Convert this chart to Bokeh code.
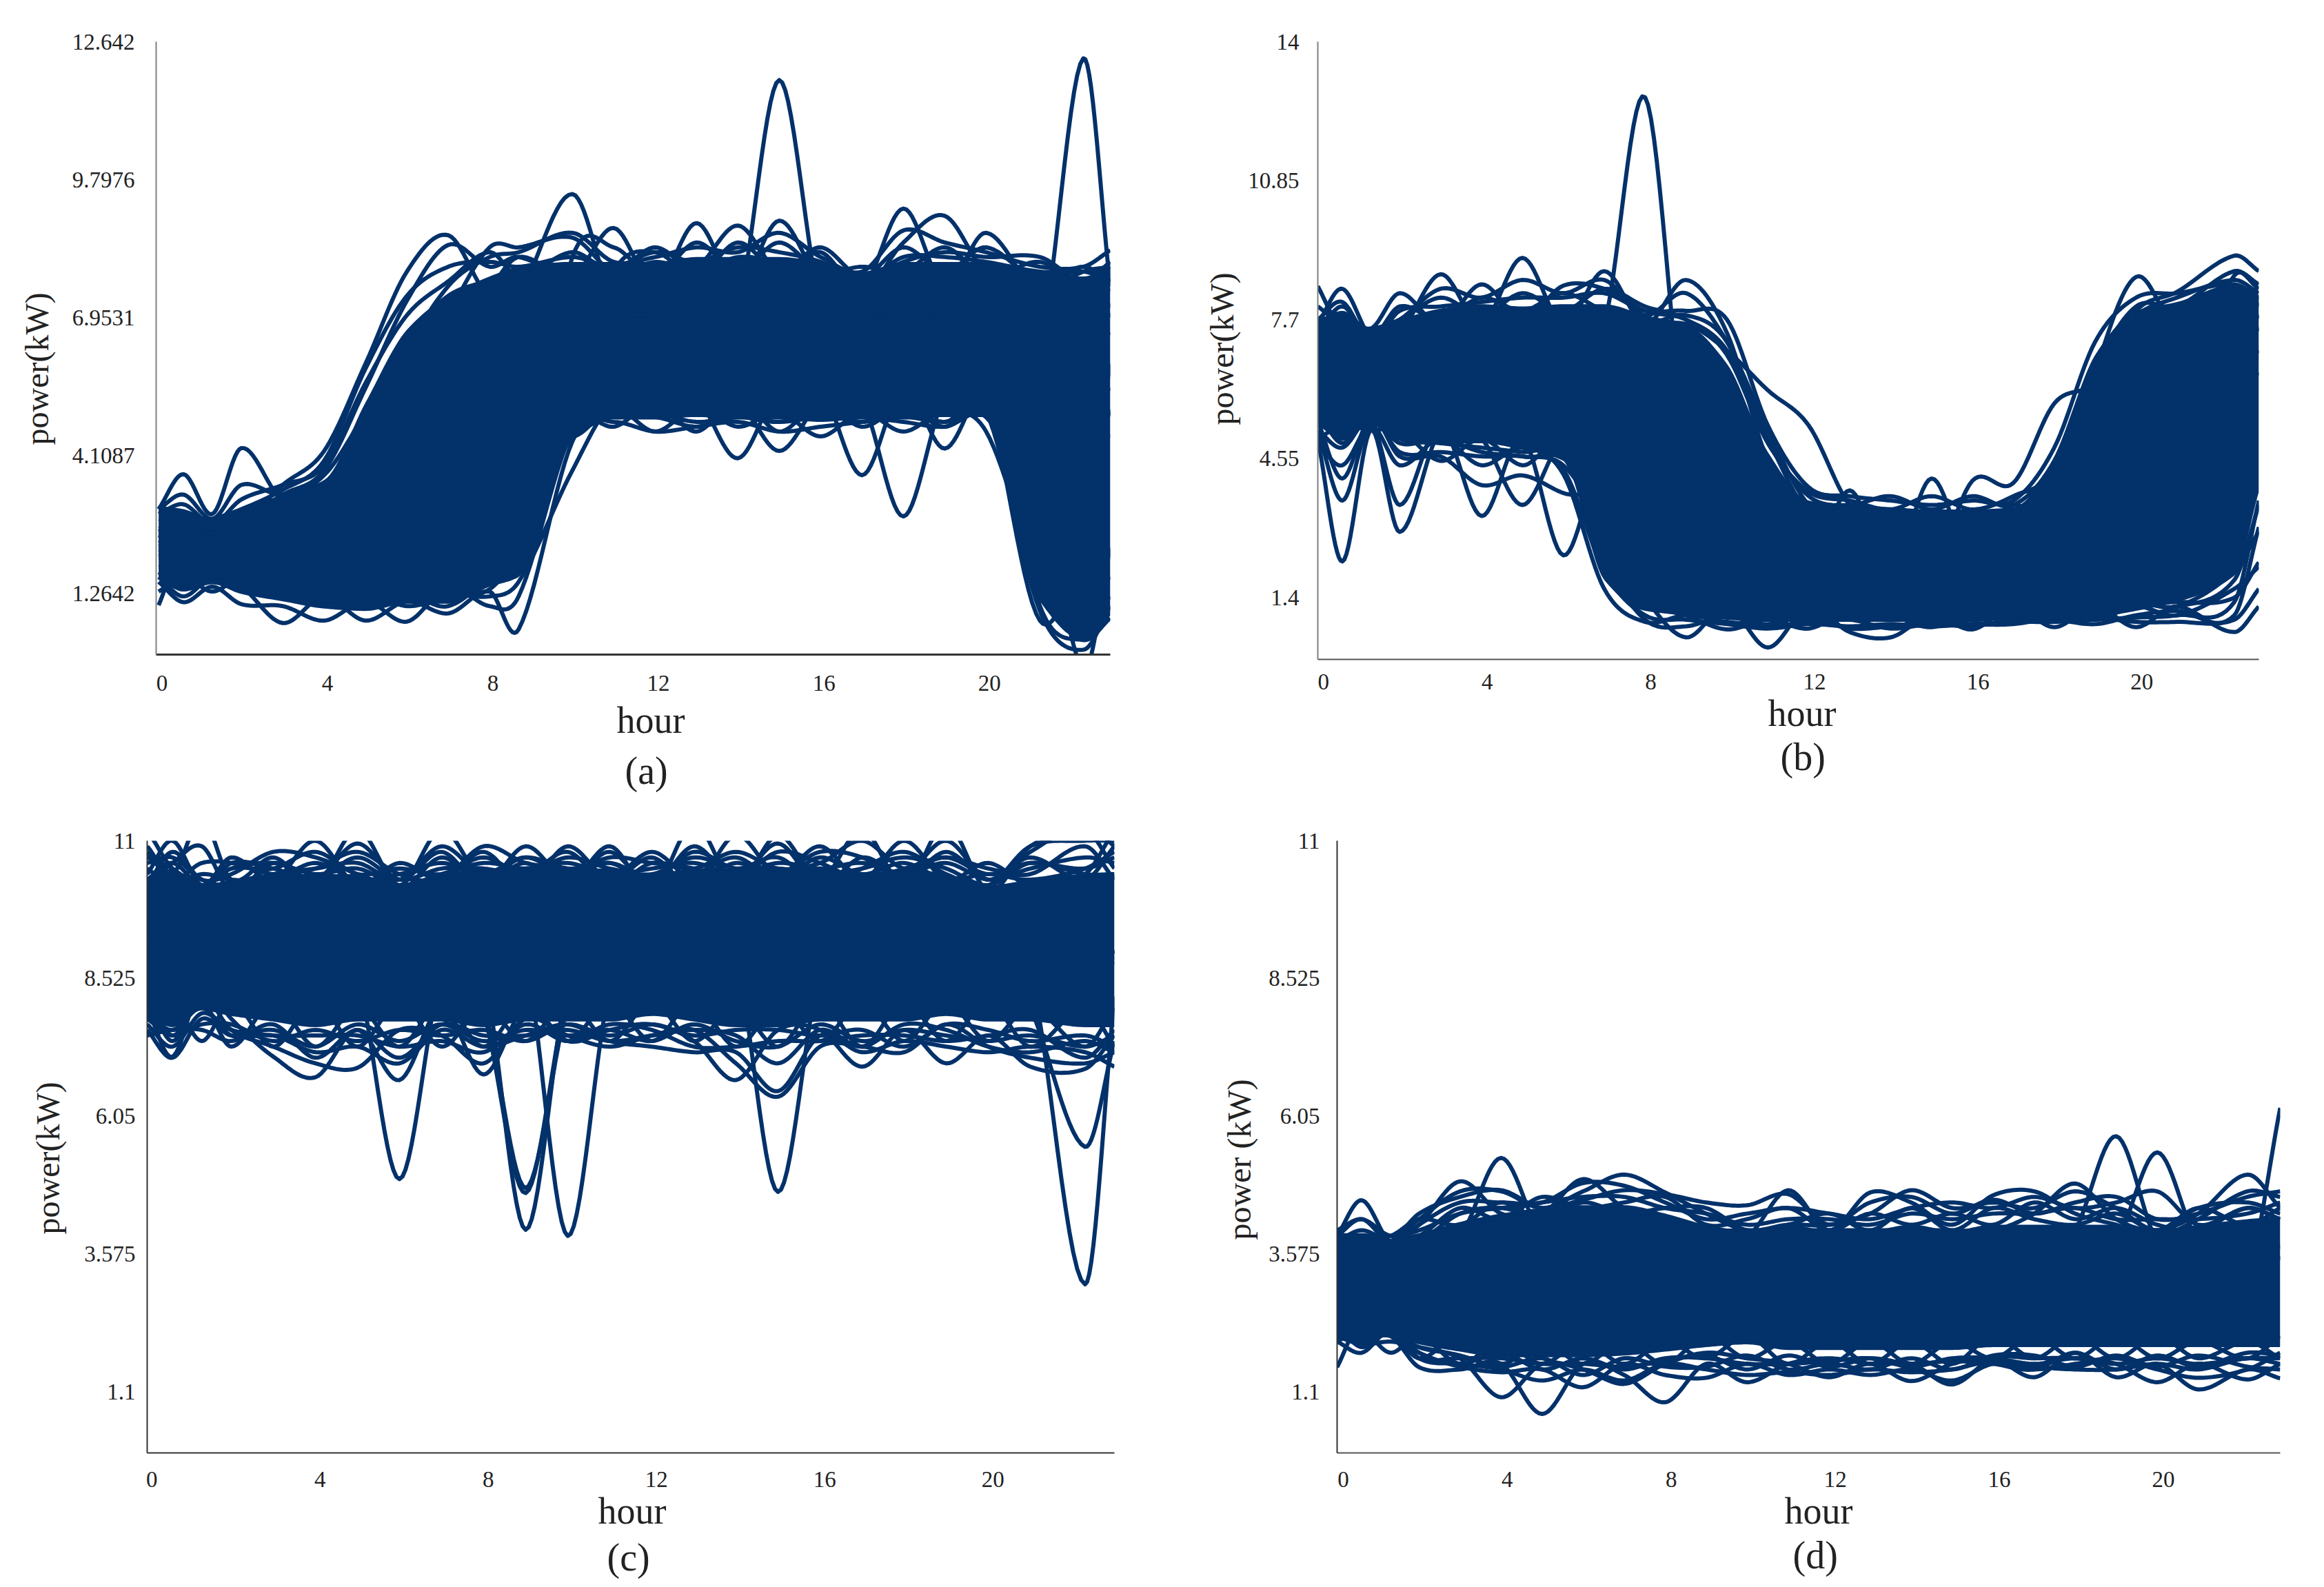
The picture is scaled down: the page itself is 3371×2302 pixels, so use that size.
from bokeh.embed import file_html
from bokeh.resources import INLINE
from bokeh.plotting import figure
from bokeh.layouts import column, row
from bokeh.models import Range1d, FixedTicker, CustomJSTickFormatter, Title
import numpy as np

LINE = "#03316A"
FONT = "Liberation Serif"

tick_hours = [0, 4, 8, 12, 16, 20]

# ---------- panel (a) ----------
a_ticks = [1.2642, 4.1087, 6.9531, 9.7976, 12.642]
a_hours = [0,.6,1.3,2,3,4,5,6,7,8,8.7,10,11,12,13,14,15,16,17,18,19,20,21.3,22.35,23]
a_top = [3.07,3.0,2.8,3.0,3.3, 3.6,5.2,6.7,7.4,7.8, 8.0,8.1,8.1,8.1,8.2, 8.2,8.2,8.1,7.9,8.1, 8.1,8.1,7.9,7.8,8.0]
a_bot = [1.55,1.3,1.45,1.25,1.1, .95,.9,1.05,1.05,1.4, 1.6,4.4,4.85,4.85,4.9, 4.85,4.85,4.8,4.85,4.85, 4.9,4.9,1.1,.3,.8]
a_lines = [
 [2.3,2.5,2.4,2.4,2.5, 2.6,3.0,4.8,6.6,7.0, 7.0,7.0,7.0,7.0,7.0, 7.2,11.85,7.3,7.0,7.0, 7.0,7.0,7.0,6.8,6.6],
 [2.6,2.4,2.5,2.4,2.4, 2.5,2.8,3.6,5.5,6.8, 7.0,7.0,7.0,7.0,7.0, 7.0,7.0,7.0,7.0,7.0, 7.0,7.2,6.5,12.3,7.6],
 [2.2,2.3,2.2,2.3,2.3, 2.4,2.6,3.4,5.0,7.0, 7.4,9.5,7.3,7.0,7.0, 7.0,7.0,7.0,7.0,7.0, 7.0,7.0,6.8,7.0,7.0],
 [2.4,2.6,2.5,2.7,3.5, 4.2,6.0,7.9,8.65,7.4, 7.9,7.6,7.4,7.2,7.2, 7.2,7.2,7.2,7.2,7.2, 7.2,7.2,7.0,7.2,7.2],
 [2.5,2.4,2.6,2.8,3.3, 3.8,5.5,7.3,8.45,8.0, 8.2,7.7,7.5,7.2,7.2, 7.2,7.2,7.2,7.2,7.2, 7.2,7.2,7.0,7.2,7.2],
 [2.5,2.6,2.5,2.6,2.6, 2.7,3.0,4.0,6.0,7.5, 8.2,7.8,8.8,7.6,8.9, 7.6,8.95,7.7,7.5,9.2, 7.6,8.7,7.4,7.6,7.5],
 [2.4,2.5,2.4,2.5,2.7, 2.9,3.4,5.2,7.0,8.4, 8.4,8.6,7.9,8.1,8.0, 8.85,7.9,8.3,7.5,8.5, 9.05,7.9,7.8,7.9,7.7],
 [2.6,2.7,2.6,2.8,2.9, 3.0,3.8,6.2,7.6,8.2, 8.3,8.7,8.1,8.2,8.4, 8.3,8.7,8.2,7.9,8.75, 8.5,8.3,8.0,8.0,8.34],
 [2.0,2.0,1.9,2.0,2.0, 2.1,2.1,2.2,2.5,3.5, 4.5,5.6,5.4,5.4,5.3, 4.05,5.5,5.5,3.7,5.5, 4.25,5.6,5.0,5.5,5.0],
 [1.8,1.9,1.8,1.8,1.9, 2.0,2.0,2.1,2.3,2.8, 3.8,5.2,5.2,5.1,5.0, 5.2,4.2,5.2,5.2,2.85, 5.3,5.3,4.0,4.5,5.0],
 [1.02,2.2,1.7,1.8,1.7, 1.6,1.7,1.7,1.8,2.2, 3.0,4.9,4.9,4.9,4.7, 4.9,4.8,4.9,4.9,4.8, 4.7,4.9,3.0,4.0,5.0],
 [3.0,3.72,2.9,4.26,3.2, 3.5,3.4,3.7,5.0,7.0, 7.2,7.0,7.0,7.0,7.0, 7.0,7.0,7.0,7.0,7.0, 7.0,7.0,6.5,7.0,7.0],
 [3.0,3.3,2.8,3.5,3.3, 3.7,5.0,6.5,7.4,7.7, 7.8,7.8,7.8,7.8,7.8, 7.8,7.8,7.8,7.8,7.8, 7.8,7.8,7.5,7.9,8.0],
 [1.6,1.2,1.6,1.4,.65, 1.2,.7,1.1,.85,1.3, .52,4.4,5.0,5.0,5.0, 5.0,5.0,5.0,5.0,5.0, 5.0,5.0,4.0,5.0,5.5],
 [1.5,1.08,1.4,1.04,1.0, .7,1.1,.68,1.4,1.0, 1.2,4.6,4.8,4.6,4.7, 4.8,4.6,4.7,4.8,4.9, 4.8,4.9,3.0,4.5,4.5],
 [2.2,2.1,2.2,2.1,2.1, 2.2,2.2,2.3,3.0,5.0, 6.0,6.5,6.5,6.5,6.5, 6.5,6.5,6.5,6.5,6.5, 6.5,5.4,.7,2.6,6.0],
 [2.1,2.2,2.1,2.1,2.2, 2.2,2.3,2.5,3.5,5.5, 6.2,6.6,6.6,6.6,6.6, 6.6,6.6,6.6,6.6,6.6, 6.6,6.0,3.5,-.3,2.2],
 [2.3,2.2,2.3,2.2,2.3, 2.3,2.4,2.6,4.0,6.0, 6.4,6.7,6.7,6.7,6.7, 6.7,6.7,6.7,6.7,6.7, 6.7,5.6,1.0,.3,.75],
 [1.7,1.4,1.7,1.35,1.3, 1.1,1.3,1.0,1.2,1.35, 2.2,5.2,7.9,8.3,7.8, 8.5,7.9,8.4,7.8,8.4, 7.9,8.4,7.7,8.0,7.7],
 [1.6,1.5,1.5,1.5,1.15, 1.3,1.0,1.25,1.0,1.7, 2.8,8.2,8.4,7.8,8.5, 7.9,8.5,7.9,8.0,7.9, 8.4,7.8,8.1,7.6,8.1],
 [2.9,3.1,2.7,3.2,3.5, 3.9,5.6,7.0,7.7,8.3, 7.8,8.3,7.9,8.4,7.9, 8.2,8.1,8.0,7.7,8.2, 8.2,8.1,7.9,7.9,8.0],
 [2.0,2.1,2.0,2.1,2.1, 2.2,2.3,2.4,2.8,3.6, 4.0,5.0,4.7,5.2,4.6, 5.3,4.6,5.2,4.7,5.1, 4.7,5.1,2.2,1.2,1.6],
 [2.1,2.0,2.1,2.0,2.0, 2.1,2.2,2.6,3.4,4.4, 5.0,4.5,5.1,4.6,5.1, 4.7,5.0,4.5,5.0,4.6, 5.0,4.6,1.6,.6,1.2],
 [2.8,2.7,2.8,3.0,3.4, 4.0,5.9,7.4,8.0,8.1, 8.0,8.2,8.0,8.3,8.1, 8.4,8.3,8.1,7.7,8.1, 8.3,8.2,8.2,7.7,8.1],
 [1.3,1.6,1.3,1.6,1.5, 1.35,1.15,1.5,1.3,1.2, 1.5,3.8,5.2,5.0,4.8, 4.9,4.8,5.0,4.8,5.0, 4.8,5.0,.9,.1,1.0],
]

# ---------- panel (b) ----------
b_ticks = [1.4, 4.55, 7.7, 10.85, 14]
b_hours = [0,.6,1.3,2,3,4,5,6,7,8,9,10,11,12,13,14,15,16,17,18,19,20,21,22.4,23]
b_top = [7.7,7.9,7.5,7.7,7.95, 8.05,8.0,8.05,8.05,7.8, 7.6,6.7,4.7,3.6,3.5, 3.45,3.4,3.4,3.45,4.5, 6.9,7.9,8.1,8.5,8.15]
b_bot = [5.3,5.0,5.3,5.0,4.9, 4.9,4.75,4.5,1.8,1.1, 1.0,.9,.85,.85,.85, .85,.85,.85,.9,.9, .95,1.1,1.3,1.9,3.8]
b_lines = [
 [6.5,6.6,6.5,6.6,6.6, 6.6,6.6,6.7,7.6,12.74, 5.0,3.5,3.0,2.6,2.4, 2.3,2.3,2.3,2.3,2.4, 2.5,3.0,4.5,6.0,6.5],
 [8.46,7.4,7.0,7.2,7.2, 7.2,7.2,7.2,7.2,7.0, 6.5,5.0,3.0,2.5,2.4, 2.4,2.4,2.4,2.4,2.4, 2.6,3.5,5.0,6.5,7.0],
 [7.6,8.4,7.3,7.4,8.73, 7.6,9.1,7.6,8.8,7.6, 8.6,7.4,4.5,3.2,2.9, 2.8,2.8,2.8,2.8,2.9, 3.0,4.0,5.5,7.0,7.5],
 [7.2,7.8,7.5,8.3,7.6, 8.5,7.7,8.47,8.4,7.9, 7.7,7.0,5.0,3.3,3.0, 3.0,3.0,3.0,3.0,3.2, 3.5,4.5,6.0,7.5,7.8],
 [7.0,7.6,7.4,7.7,8.4, 8.2,8.6,8.3,8.6,7.8, 8.3,7.2,5.2,3.5,3.2, 3.1,3.1,3.1,3.2,3.5, 4.0,5.0,6.5,7.9,8.1],
 [6.8,7.0,7.0,7.0,7.2, 7.2,7.2,7.2,7.2,7.5, 7.6,7.0,6.1,5.3,3.5, 3.0,2.8,2.8,3.0,3.5, 4.5,6.0,7.0,7.5,7.5],
 [5.5,6.0,6.0,6.0,6.0, 6.0,6.0,6.0,5.0,3.0, 2.5,2.2,2.0,2.0,3.83, 2.0,4.1,2.2,3.5,3.0, 6.5,8.67,7.5,8.0,8.2],
 [5.5,5.8,6.0,6.0,6.0, 6.0,6.0,6.0,5.0,3.0, 2.5,2.2,2.0,2.0,2.0, 2.0,2.0,4.05,4.0,5.8, 6.3,7.9,8.33,9.15,8.8],
 [5.0,2.22,5.2,2.89,5.2, 5.0,3.5,5.0,4.8,3.0, 2.0,1.8,1.5,1.5,1.6, 1.6,1.7,1.8,1.8,2.0, 2.3,3.5,6.0,8.7,8.4],
 [5.2,3.6,5.3,3.5,5.3, 3.25,5.0,2.36,4.5,2.5, 1.8,1.5,1.3,1.4,1.5, 1.5,1.5,1.6,1.7,1.8, 2.0,3.0,5.5,8.2,8.0],
 [5.4,4.1,5.5,4.6,4.6, 3.95,4.17,3.77,3.5,1.5, 1.4,1.3,1.2,1.3,1.3, 1.3,1.3,1.4,1.4,1.5, 1.6,2.5,4.5,7.0,7.8],
 [5.6,4.9,5.5,4.9,5.0, 4.7,4.6,4.4,3.0,1.4, .5,1.2,.27,1.2,.62, .5,1.0,.68,1.2,.73, 1.2,.73,1.2,.62,1.2],
 [5.5,5.0,5.5,5.0,4.9, 4.8,4.7,4.6,2.5,1.3, 1.0,.68,.9,.7,1.1, 1.0,.73,1.1,1.0,1.1, .9,1.2,1.0,1.6,2.1],
 [6.0,6.0,6.0,6.0,6.0, 6.0,6.0,6.0,4.0,1.6, 1.3,1.2,1.1,1.1,1.1, 1.2,1.2,1.2,1.2,1.1, 1.2,1.3,1.2,2.0,2.9],
 [6.0,6.0,6.0,6.0,6.0, 6.0,6.0,6.0,4.5,1.8, 1.5,1.3,1.2,1.2,1.2, 1.2,1.2,1.2,1.2,1.2, 1.3,1.3,1.3,1.4,2.2],
 [6.2,6.2,6.2,6.2,6.2, 6.2,6.2,6.2,5.0,2.0, 1.5,1.4,1.3,1.2,1.3, 1.3,1.3,1.2,1.2,1.2, 1.3,1.3,1.2,1.8,3.5],
 [7.4,8.0,7.3,8.0,7.7, 8.2,7.9,8.3,7.9,7.6, 7.8,7.2,5.0,3.7,3.5, 3.7,3.4,3.7,3.5,4.5, 6.8,7.8,8.2,8.6,8.3],
 [8.0,7.6,7.5,7.7,8.2, 7.8,8.3,7.9,8.4,8.0, 7.7,6.9,4.9,3.8,3.6, 3.4,3.7,3.4,3.7,4.3, 6.6,8.0,8.0,8.8,8.5],
 [7.7,8.1,7.2,7.9,8.0, 8.1,8.2,8.2,8.3,7.9, 7.9,7.7,5.3,3.9,3.7, 3.6,3.5,3.6,3.6,4.8, 7.2,8.2,8.3,8.5,8.2],
 [5.2,4.8,5.5,4.7,4.7, 4.6,4.6,4.3,2.0,1.0, .9,.8,.7,.8,.75, .8,.75,.8,.85,.85, .9,.95,1.0,1.3,3.6],
 [5.0,5.3,5.2,5.2,4.5, 5.0,4.4,4.8,2.3,.9, .75,1.0,.75,.85,.9, .7,.8,.75,.9,.9, .8,1.0,1.1,1.0,3.0],
 [4.9,4.4,5.3,4.4,5.0, 4.4,4.8,4.2,1.6,.85, 1.0,.85,.8,.95,.7, .75,.85,.8,.8,.95, .95,.85,.85,.9,1.6],
]

# ---------- panel (c) ----------
c_ticks = [1.1, 3.575, 6.05, 8.525, 11]
c_hours = [0,.6,1.3,2,3,4,5,6,7,8,9,10,11,12,13,14,15,16,17,18,19,20,21,22.3,23]
c_top = [10.3,10.5,10.2,10.3,10.4, 10.4,10.4,10.2,10.4,10.5, 10.5,10.5,10.5,10.4,10.5, 10.5,10.5,10.5,10.4,10.5, 10.4,10.2,10.3,10.4,10.4]
c_bot = [7.85,7.65,7.95,7.85,7.75, 7.65,7.75,7.75,7.75,7.65, 7.75,7.75,7.75,7.85,7.75, 7.65,7.65,7.75,7.75,7.75, 7.85,7.75,7.75,7.65,7.65]
c_lines = [
 [9.0,9.0,9.0,9.0,9.0, 9.0,8.5,4.92,8.6,9.0, 9.0,9.0,9.0,9.0,9.0, 9.0,9.0,9.0,9.0,9.0, 9.0,9.0,9.0,9.0,9.0],
 [9.0,9.0,9.0,9.0,9.0, 9.0,9.0,9.0,9.0,8.6, 4.01,8.4,9.0,9.0,9.0, 9.0,9.0,9.0,9.0,9.0, 9.0,9.0,9.0,9.0,9.0],
 [9.2,9.2,9.2,9.2,9.2, 9.2,9.2,9.2,9.2,7.9, 4.67,8.2,9.0,9.0,9.0, 9.0,9.0,9.0,9.0,9.0, 9.0,9.0,9.0,9.0,9.0],
 [8.8,8.8,8.8,8.8,8.8, 8.8,8.8,8.8,8.8,8.0, 4.76,8.0,8.8,8.8,8.8, 8.8,8.8,8.8,8.8,8.8, 8.8,8.8,8.8,8.8,8.8],
 [9.1,9.1,9.1,9.1,9.1, 9.1,9.1,9.1,9.1,9.1, 8.8,3.9,8.3,9.0,9.0, 9.0,9.0,9.0,9.0,9.0, 9.0,9.0,9.0,9.0,9.0],
 [8.9,8.9,8.9,8.9,8.9, 8.9,8.9,8.9,8.9,8.9, 8.9,8.9,8.9,8.9,8.9, 8.8,4.69,8.6,8.9,8.9, 8.9,8.9,8.9,8.9,8.9],
 [9.0,9.0,9.0,9.0,9.0, 9.0,9.0,9.0,9.0,9.0, 9.0,9.0,9.0,9.0,9.0, 9.0,9.0,9.0,9.0,9.0, 9.0,9.0,8.6,3.03,8.2],
 [9.3,9.3,9.3,9.3,9.3, 9.3,9.3,9.3,9.3,9.3, 9.3,9.3,9.3,9.3,9.3, 9.3,9.3,9.3,9.3,9.3, 9.3,9.3,8.0,5.5,7.4],
 [8.0,7.12,8.4,7.8,7.12, 6.75,7.6,6.7,8.0,6.8, 8.0,7.4,7.6,7.7,7.4, 6.7,7.6,7.6,6.94,7.6, 7.0,7.5,6.94,6.9,7.5],
 [8.2,7.4,8.2,7.6,7.3, 7.0,6.92,7.6,7.5,7.0, 7.8,7.5,7.3,7.5,7.6, 7.0,6.4,7.3,7.3,7.2, 7.7,7.3,7.1,7.0,7.2],
 [7.9,7.6,8.0,7.5,7.5, 7.2,7.3,7.0,7.6,7.3, 7.5,7.7,7.4,7.3,7.2, 7.2,6.5,7.5,7.2,7.4, 7.3,7.2,7.3,7.2,6.94],
 [10.9,10.4,11.4,10.3,10.7, 10.2,11.2,10.2,11.2,10.3, 10.6,10.2,10.9,10.1,11.3, 10.2,11.1,10.3,11.2,10.2, 11.3,10.1,10.9,11.2,10.5],
 [10.4,11.0,10.2,10.7,10.3, 11.0,10.2,10.6,10.3,10.8, 10.2,10.9,10.3,10.7,10.2, 11.1,10.4,10.9,10.3,11.0, 10.3,10.6,10.2,10.4,11.2],
 [10.2,10.6,10.9,10.1,10.6, 10.3,10.95,10.3,10.8,10.2, 10.9,10.3,10.8,10.2,10.9, 10.3,10.95,10.2,10.7,10.4, 11.0,10.3,10.8,11.3,10.9],
 [11.2,10.5,10.2,10.5,10.5, 10.8,10.4,10.5,10.4,10.7, 10.4,10.8,10.2,10.6,10.5, 10.8,10.5,10.6,11.0,10.5, 10.7,10.4,10.6,10.5,10.7],
 [10.6,10.7,10.3,10.2,10.4, 10.5,10.6,10.3,10.9,10.4, 10.7,10.5,10.6,10.3,10.8, 10.5,10.7,10.2,10.5,10.8, 10.4,10.2,10.9,11.0,11.0],
 [10.3,10.6,10.2,10.5,10.6, 10.4,10.5,10.2,10.4,10.6, 10.5,10.6,10.4,10.5,10.6, 10.4,10.6,10.5,10.6,10.4, 10.6,10.3,10.5,10.7,10.6],
 [10.5,10.2,10.4,10.3,10.3, 10.6,10.3,10.4,10.6,10.4, 10.7,10.4,10.6,10.3,10.4, 10.7,10.3,10.7,10.4,10.6, 10.3,10.4,10.3,10.5,10.8],
 [10.7,10.5,10.1,10.6,10.5, 10.3,10.7,10.3,10.5,10.5, 10.4,10.7,10.5,10.4,10.7, 10.5,10.5,10.4,10.5,10.7, 10.5,10.2,10.6,10.4,10.4],
 [10.2,10.8,10.3,10.4,10.8, 10.7,10.4,10.1,10.7,10.2, 10.5,10.4,10.7,10.6,10.5, 10.3,10.8,10.6,10.3,10.5, 10.7,10.5,10.4,10.9,10.3],
 [10.8,10.3,10.6,10.6,10.4, 10.5,10.8,10.4,10.3,10.9, 10.6,10.5,10.3,10.8,10.3, 10.6,10.4,10.8,10.7,10.3, 10.8,10.3,10.7,10.3,10.9],
 [7.6,7.1,7.8,7.5,7.6, 7.3,7.7,7.4,7.7,7.4, 7.6,7.5,7.6,7.4,7.7, 7.4,7.3,7.7,7.4,7.6, 7.5,7.4,7.5,7.3,7.5],
 [7.8,7.5,7.7,7.7,7.4, 7.6,7.4,7.6,7.5,7.6, 7.4,7.7,7.5,7.7,7.5, 7.6,7.6,7.5,7.6,7.3, 7.7,7.6,7.4,7.5,7.3],
 [7.7,7.3,7.9,7.6,7.5, 7.5,7.5,7.3,7.4,7.2, 7.7,7.4,7.7,7.6,7.3, 7.3,7.4,7.4,7.5,7.5, 7.4,7.5,7.6,7.1,7.6],
 [7.5,7.6,7.6,7.4,7.7, 7.1,7.6,7.1,7.7,7.5, 7.5,7.6,7.4,7.5,7.6, 7.5,7.0,7.6,7.3,7.7, 7.6,7.3,7.2,7.4,7.2],
 [8.2,7.5,8.1,7.3,8.1, 7.3,8.0,7.3,8.1,7.3, 8.1,7.4,8.1,7.4,8.1, 7.3,8.0,7.4,8.1,7.4, 8.1,7.4,8.0,7.3,8.0],
 [7.8,8.1,7.4,8.1,7.3, 8.1,7.3,8.1,7.3,8.0, 7.4,8.1,7.4,8.1,7.4, 8.0,7.3,8.1,7.3,8.1, 7.4,8.1,7.3,8.0,7.3],
]

# ---------- panel (d) ----------
d_ticks = [1.1, 3.575, 6.05, 8.525, 11]
d_hours = [0,.6,1.3,2,3,4,5,6,7,8,9,10,11,12,13,14,15,16,17,18,19,20,21,22.2,23]
d_top = [3.95,3.95,3.85,3.95,4.15, 4.3,4.4,4.45,4.45,4.3, 4.1,4.0,4.1,4.0,4.0, 4.1,4.0,4.1,4.1,4.1, 4.1,4.0,4.1,4.2,4.25]
d_bot = [2.04,1.95,2.1,1.95,1.82, 1.72,1.72,1.72,1.75,1.82, 1.9,1.95,1.85,1.85,1.85, 1.85,1.85,1.9,1.9,1.9, 1.9,1.9,1.9,1.9,1.9]
d_lines = [
 [3.0,3.0,3.0,3.0,3.0, 3.0,3.0,3.0,3.0,3.0, 3.0,3.0,3.0,3.0,3.0, 3.0,3.0,3.0,3.0,3.0, 3.0,3.0,3.0,3.2,6.2],
 [3.2,3.2,3.2,3.2,3.2, 3.2,3.2,3.2,3.2,3.2, 3.2,3.2,3.2,3.2,3.2, 3.2,3.2,3.2,3.2,4.0, 5.69,3.8,3.5,3.5,3.5],
 [3.4,3.4,3.4,3.4,3.4, 3.4,3.4,3.4,3.4,3.4, 3.4,3.4,3.4,3.4,3.4, 3.4,3.4,3.4,3.4,3.4, 3.8,5.4,3.8,3.5,3.5],
 [3.6,3.6,3.6,3.7,3.9, 5.3,3.9,3.8,3.7,3.7, 3.7,3.7,3.7,3.7,3.7, 3.7,3.7,3.7,3.7,3.7, 3.7,3.7,3.7,3.7,3.7],
 [3.8,3.8,3.7,3.8,4.3, 4.4,4.2,4.1,4.1,4.1, 4.0,4.0,4.0,4.0,4.0, 4.0,4.0,4.0,4.3,4.84, 4.2,4.0,4.3,5.0,4.4],
 [3.9,4.54,3.8,4.1,4.88, 4.3,4.3,4.92,4.4,4.2, 4.0,3.9,4.72,4.0,4.68, 4.5,4.1,4.63,4.7,4.3, 4.1,3.9,4.2,4.7,4.6],
 [3.9,4.2,3.8,4.2,4.7, 4.7,4.4,4.7,5.0,4.68, 4.3,4.0,4.1,4.1,4.3, 4.72,4.4,4.5,4.4,4.7, 4.4,4.0,4.4,4.5,4.3],
 [3.7,3.9,3.8,4.3,4.6, 4.72,4.4,4.55,4.72,4.65, 4.5,4.45,4.65,4.1,4.5, 4.6,4.3,4.55,4.3,4.5, 4.6,4.2,4.3,4.6,4.7],
 [3.5,3.9,3.7,4.1,4.5, 4.5,4.5,4.85,4.8,4.5, 4.2,4.3,4.4,4.3,4.2, 4.4,4.5,4.4,4.6,4.4, 4.5,4.7,4.1,4.4,4.2],
 [1.54,2.4,2.2,1.9,1.7, 1.0,1.6,1.5,1.24,1.6, 1.8,1.7,1.6,1.36,1.6, 1.29,1.6,1.7,1.36,1.8, 1.36,1.6,1.14,1.5,1.34],
 [2.2,2.0,2.1,1.54,1.5, 1.6,.7,1.6,1.4,.91, 1.6,1.27,1.6,1.7,1.6, 1.6,1.23,1.7,1.7,1.7, 1.6,1.27,1.6,1.32,1.6],
 [2.3,2.1,2.2,1.8,1.55, 1.45,1.5,1.18,1.6,1.4, 1.35,1.6,1.4,1.5,1.4, 1.5,1.3,1.6,1.5,1.6, 1.7,1.5,1.35,1.5,1.8],
 [2.4,2.2,2.3,1.7,1.6, 1.5,1.3,1.5,1.3,1.6, 1.5,1.4,1.45,1.4,1.5, 1.45,1.5,1.65,1.55,1.5, 1.5,1.6,1.5,1.7,1.6],
 [4.0,4.2,3.9,4.0,4.3, 4.4,4.5,4.6,4.6,4.4, 4.3,4.1,4.2,4.2,4.1, 4.3,4.2,4.3,4.3,4.4, 4.2,4.2,4.2,4.3,4.5],
 [3.8,4.0,3.8,3.9,4.4, 4.2,4.6,4.4,4.5,4.6, 4.1,4.2,4.4,4.0,4.3, 4.1,4.3,4.1,4.5,4.2, 4.4,4.1,4.0,4.4,4.2],
 [3.9,3.9,3.9,4.2,4.1, 4.5,4.2,4.5,4.3,4.4, 4.4,4.0,4.1,4.3,4.0, 4.4,4.0,4.4,4.2,4.1, 4.3,4.0,4.4,4.1,4.4],
 [2.0,1.8,2.2,1.8,1.6, 1.8,1.5,1.7,1.5,1.7, 1.7,1.6,1.6,1.65,1.7, 1.55,1.7,1.7,1.6,1.7, 1.6,1.7,1.6,1.7,1.7],
 [2.1,1.95,2.0,1.9,1.75, 1.55,1.7,1.4,1.7,1.55, 1.55,1.75,1.5,1.6,1.5, 1.7,1.5,1.75,1.75,1.55, 1.75,1.55,1.75,1.55,1.5],
 [2.2,2.05,2.1,1.7,1.7, 1.7,1.6,1.6,1.55,1.65, 1.75,1.5,1.75,1.55,1.7, 1.6,1.65,1.6,1.5,1.8, 1.5,1.75,1.55,1.8,1.75],
 [2.3,1.9,2.2,1.7,2.1, 1.6,2.0,1.6,2.0,1.6, 2.1,1.7,2.0,1.6,2.0, 1.6,2.0,1.7,2.1,1.7, 2.1,1.7,2.0,1.7,2.1],
 [2.0,2.2,1.8,2.1,1.6, 2.0,1.6,2.0,1.6,2.0, 1.7,2.1,1.6,2.0,1.6, 2.0,1.6,2.1,1.7,2.1, 1.7,2.1,1.7,2.0,1.7],
]

def smooth(hours, values, n=14, monotone=False):
    """Draw the read values as a smooth line, the way the chart's spline does."""
    x = np.asarray(hours, float)
    y = np.asarray(values, float)
    assert len(x) == len(y), (len(x), len(y))
    m = np.gradient(y, x)
    m[1:-1] = (y[2:] - y[:-2]) / (x[2:] - x[:-2])
    if monotone:
        d = np.diff(y) / np.diff(x)
        m[0], m[-1] = d[0], d[-1]
        for i in range(1, len(x) - 1):
            if d[i-1] * d[i] <= 0:
                m[i] = 0.0
            else:
                m[i] = 2 * d[i-1] * d[i] / (d[i-1] + d[i])
    xs, ys = [], []
    for i in range(len(x) - 1):
        h = x[i + 1] - x[i]
        t = np.linspace(0, 1, n, endpoint=False)
        h00 = 2*t**3 - 3*t**2 + 1
        h10 = t**3 - 2*t**2 + t
        h01 = -2*t**3 + 3*t**2
        h11 = t**3 - t**2
        xs.append(x[i] + t*h)
        ys.append(h00*y[i] + h10*h*m[i] + h01*y[i+1] + h11*h*m[i+1])
    xs.append(x[-1:]); ys.append(y[-1:])
    return np.concatenate(xs), np.concatenate(ys)

def panel(hours, top, bot, lines, yticks, ymax, w, h, left, right, up, down, x0,
          tick_off, y_standoff, x_standoff, ycolor, xcolor, xwidth, ywidth,
          ylabel, ylab_off, ylab_standoff, hour_off, hour_standoff, cap, cap_off, cap_standoff):
    p = figure(width=w, height=h, x_range=Range1d(x0, 23), y_range=Range1d(0, ymax),
               output_backend="svg", toolbar_location=None,
               min_border_left=left, min_border_right=right,
               min_border_top=up, min_border_bottom=down)
    p.outline_line_color = None
    p.grid.visible = False
    p.background_fill_color = "white"
    p.border_fill_color = "white"

    sx, yt = smooth(hours, top, monotone=True)
    _, yb = smooth(hours, bot, monotone=True)
    p.varea(x=sx, y1=yb, y2=yt, fill_color=LINE)
    for s in lines:
        lx, ly = smooth(hours, s)
        p.line(lx, ly, line_color=LINE, line_width=6, line_join="round")

    xa = p.xaxis[0]
    xa.ticker = FixedTicker(ticks=[t + tick_off for t in tick_hours])
    xa.formatter = CustomJSTickFormatter(code="return Math.floor(tick).toString()")
    xa.major_tick_line_color = None
    xa.minor_tick_line_color = None
    xa.axis_line_color = xcolor
    xa.axis_line_width = xwidth
    xa.major_label_text_font = FONT
    xa.major_label_text_font_size = "33px"
    xa.major_label_text_color = "#222222"
    xa.major_label_standoff = x_standoff

    ya = p.yaxis[0]
    ya.ticker = FixedTicker(ticks=yticks)
    ya.formatter = CustomJSTickFormatter(code="return (+tick.toFixed(4)).toString()")
    ya.major_tick_line_color = None
    ya.minor_tick_line_color = None
    ya.axis_line_color = ycolor
    ya.axis_line_width = ywidth
    ya.major_label_text_font = FONT
    ya.major_label_text_font_size = "33px"
    ya.major_label_text_color = "#222222"
    ya.major_label_standoff = y_standoff

    def put(text, side, size, offset, standoff):
        p.add_layout(Title(text=text, align="left", offset=offset, standoff=standoff,
                           text_font=FONT, text_font_size=size, text_font_style="normal",
                           text_color="#222222"), side)
    put("hour", "below", "54px", hour_off, hour_standoff)
    put(cap, "below", "56px", cap_off, cap_standoff)
    put(ylabel, "left", "48px", ylab_off, ylab_standoff)
    return p

pa = panel(a_hours, a_top, a_bot, a_lines, a_ticks, 12.642, 1700, 1150, 226, 90, 60, 200, -0.06,
           0.08, 25, 24, "#808080", "#333333", 3, 2,
           "power(kW)", 304, 43, 668, 16, "(a)", 680, 4)
pb = panel(b_hours, b_top, b_bot, b_lines, b_ticks, 14, 1665, 1157, 211, 89, 60, 200, 0,
           0.14, 21, 15, "#808080", "#555555", 2, 2,
           "power(kW)", 340, 17, 653, 0, "(b)", 671, 0)
pc = panel(c_hours, c_top, c_bot, c_lines, c_ticks, 11, 1700, 1139, 213, 84, 62, 189, 0,
           0.11, 11, 21, "#333333", "#333333", 2, 2,
           "power(kW)", 317, 47, 654, 0, "(c)", 667, 8)
pd_ = panel(d_hours, d_top, d_bot, d_lines, d_ticks, 11, 1665, 1139, 239, 58, 62, 189, 0,
            0.15, 19, 21, "#333333", "#555555", 2, 2,
            "power (kW)", 309, 28, 649, 0, "(d)", 661, 3)

layout = column(row(pa, pb, spacing=0), row(pc, pd_, spacing=0), spacing=0)
open("out.html", "w").write(file_html(layout, INLINE))
